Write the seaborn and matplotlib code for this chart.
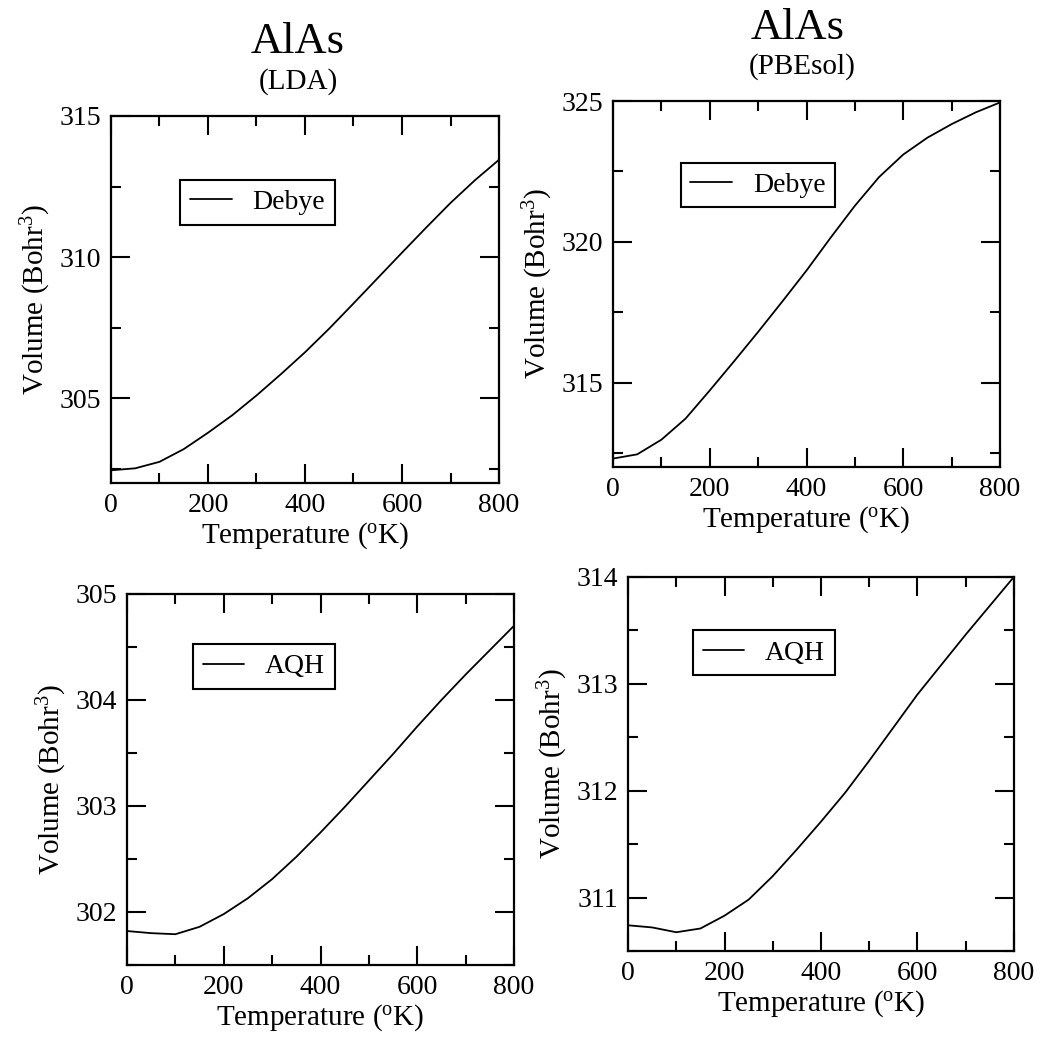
import numpy as np
import pandas as pd
import matplotlib
matplotlib.use("Agg")
import matplotlib.pyplot as plt
from matplotlib.ticker import MultipleLocator
import seaborn as sns

# ---------------- data ----------------
temperature = [0, 50, 100, 150, 200, 250, 300, 350, 400, 450, 500, 550, 600, 650, 700, 750, 800]

vol_lda_debye = [302.45, 302.52, 302.75, 303.20, 303.78, 304.40, 305.10, 305.85, 306.63,
                 307.47, 308.36, 309.26, 310.16, 311.05, 311.92, 312.72, 313.45]
vol_pbesol_debye = [312.30, 312.45, 312.97, 313.72, 314.72, 315.75, 316.80, 317.88, 318.98,
                    320.15, 321.28, 322.30, 323.10, 323.70, 324.18, 324.60, 324.95]
vol_lda_aqh = [301.82, 301.80, 301.79, 301.86, 301.98, 302.13, 302.31, 302.52, 302.75,
               302.99, 303.24, 303.49, 303.75, 304.00, 304.24, 304.47, 304.70]
vol_pbesol_aqh = [310.74, 310.72, 310.675, 310.71, 310.83, 310.98, 311.20, 311.45, 311.71,
                  311.98, 312.28, 312.59, 312.90, 313.18, 313.46, 313.73, 314.00]

compound = "AlAs"
functionals = ["(LDA)", "(PBEsol)"]
methods = ["Debye", "AQH"]
xlabel = "Temperature ($^{\\mathrm{o}}$K)"
ylabel = "Volume (Bohr$^{3}$)"

# ---------------- style ----------------
sns.set_style("ticks")
plt.rcParams["font.family"] = ["Liberation Serif", "DejaVu Serif"]
plt.rcParams["mathtext.fontset"] = "custom"
plt.rcParams["mathtext.rm"] = "Liberation Serif"
plt.rcParams["mathtext.it"] = "Liberation Serif:italic"
plt.rcParams["mathtext.bf"] = "Liberation Serif:bold"
for key in ["text.color", "axes.labelcolor", "xtick.color", "ytick.color", "axes.edgecolor"]:
    plt.rcParams[key] = "black"

fig = plt.figure(figsize=(10.42, 10.45), dpi=100)

panels = [
    # rect, values, label, ylim, ymajor, yminor, legend anchor
    ([0.1065, 0.5378, 0.3724, 0.3512], vol_lda_debye, methods[0], (302, 315), 5, 2.5, (0.179, 0.826)),
    ([0.5883, 0.5531, 0.3714, 0.3502], vol_pbesol_debye, methods[0], (312, 325), 5, 2.5, (0.175, 0.832)),
    ([0.1219, 0.0766, 0.3714, 0.3550], vol_lda_aqh, methods[1], (301.5, 305), 1, 0.5, (0.170, 0.865)),
    ([0.6027, 0.0900, 0.3704, 0.3580], vol_pbesol_aqh, methods[1], (310.5, 314), 1, 0.5, (0.168, 0.857)),
]

for rect, vals, lab, ylim, ymaj, ymin, anchor in panels:
    ax = fig.add_axes(rect)
    df = pd.DataFrame({"T": temperature, "V": vals})
    sns.lineplot(data=df, x="T", y="V", ax=ax, color="black", linewidth=1.3, label=lab)
    ax.set_xlim(0, 800)
    ax.set_ylim(*ylim)
    ax.xaxis.set_major_locator(MultipleLocator(200))
    ax.xaxis.set_minor_locator(MultipleLocator(100))
    ax.yaxis.set_major_locator(MultipleLocator(ymaj))
    ax.yaxis.set_minor_locator(MultipleLocator(ymin))
    ax.tick_params(which="both", direction="in", top=True, right=True,
                   width=1.5, colors="black", labelsize=20, pad=7)
    ax.tick_params(which="major", length=14)
    ax.tick_params(which="minor", length=7)
    for sp in ax.spines.values():
        sp.set_linewidth(1.6)
        sp.set_color("black")
    ax.set_xlabel(xlabel, fontsize=21, labelpad=2, color="black")
    ax.set_ylabel(ylabel, fontsize=21, labelpad=5, color="black")
    leg = ax.legend(loc="upper left", bbox_to_anchor=anchor, borderaxespad=0,
                    frameon=True, fancybox=False, edgecolor="black", framealpha=1,
                    fontsize=20, handlelength=1.5, handletextpad=0.75, borderpad=0.35,
                    labelcolor="black")
    leg.get_frame().set_linewidth(1.5)

fig.text(0.286, 0.949, compound, ha="center", va="baseline", fontsize=32, color="black")
fig.text(0.2866, 0.9153, functionals[0], ha="center", va="baseline", fontsize=21, color="black")
fig.text(0.765, 0.9627, compound, ha="center", va="baseline", fontsize=32, color="black")
fig.text(0.7697, 0.9292, functionals[1], ha="center", va="baseline", fontsize=21, color="black")

fig.savefig("out.png", dpi=100)
